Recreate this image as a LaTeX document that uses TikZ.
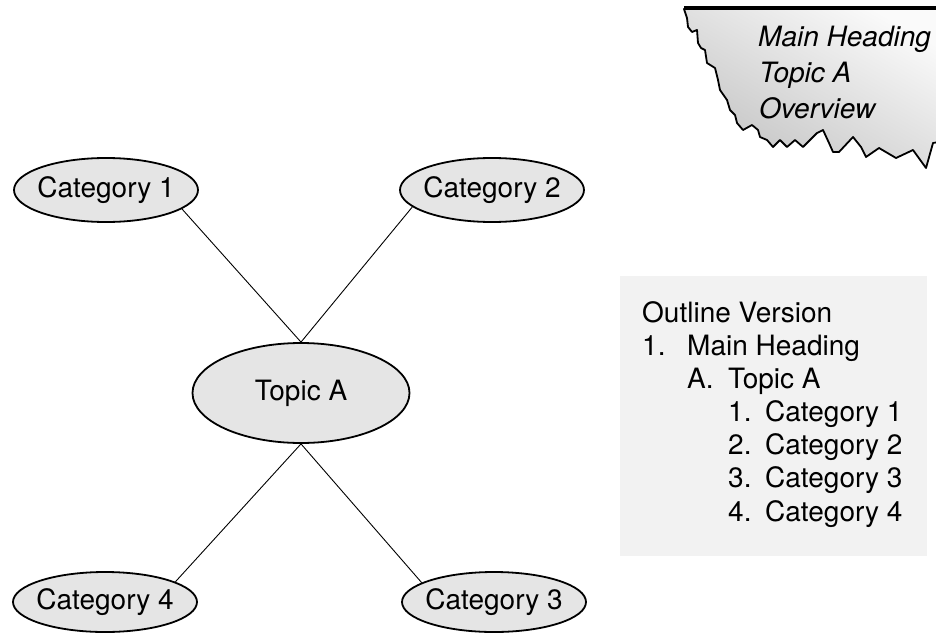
\documentclass[tikz,border=0pt]{standalone}
\usepackage{fontspec}
\setmainfont{TeX Gyre Heros}
\usetikzlibrary{shapes.geometric}
\definecolor{bubblegray}{gray}{0.9}
\definecolor{panelgray}{gray}{0.95}
\definecolor{tornlight}{gray}{0.98}
\definecolor{torndark}{gray}{0.77}

\begin{document}
\begin{tikzpicture}[x=1pt,y=-1pt,
  every node/.style={font=\fontsize{28}{33}\selectfont},
  bubble/.style={ellipse,draw,line width=1.8pt,fill=bubblegray,inner ysep=0pt,
    inner xsep=-5pt,minimum width=184pt,minimum height=64pt},
  spoke/.style={line width=0.9pt},
  item/.style={anchor=base west,inner sep=0pt}]

\useasboundingbox (0,0) rectangle (936,634);

% the map
\node[bubble] (cat1) at (106,190) {Category 1};
\node[bubble] (cat2) at (492,190) {Category 2};
\node[bubble,minimum width=217pt,minimum height=100pt] (topic) at (301,393) {Topic A};
\node[bubble,minimum height=60pt] (cat4) at (105,602) {Category 4};
\node[bubble,minimum height=60pt] (cat3) at (494,602) {Category 3};

\draw[spoke] (topic.north) -- (cat1.-14);
\draw[spoke] (topic.north) -- (cat2.192);
\draw[spoke] (topic.south) -- (cat4.16);
\draw[spoke] (topic.south) -- (cat3.165);

% torn sheet
\shadedraw[line width=1.8pt,line join=round,bottom color=torndark,
  top color=tornlight,shading angle=-30]
  (684,9) -- (687,18) -- (688,27) -- (692,32) -- (697,30) -- (698,43)
  -- (701,48) -- (705,50) -- (707,63) -- (715,68) -- (718,80) -- (720,90)
  -- (727,100) -- (730,110) -- (735,115) -- (737,123) -- (743,130)
  -- (752,125) -- (758,130) -- (760,137) -- (767,140) -- (773,147)
  -- (780,140) -- (787,147) -- (795,140) -- (803,147) -- (810,140)
  -- (817,133) -- (823,130) -- (829,143) -- (833,152) -- (839,152)
  -- (853,137) -- (861,147) -- (866,157) -- (879,148) -- (896,158)
  -- (913,150) -- (926,168) -- (933,143) -- (945,141) -- (945,8) -- cycle;
\draw[line width=3.2pt] (684,8) -- (945,8);

\node[item] (head1) at (758,47) {\itshape Main Heading};
\node[item] (head2) at (759,82) {\itshape Topic A};
\node[item] (head3) at (759,118) {\itshape Overview};

% outline panel
\node[fill=panelgray,minimum width=307pt,minimum height=280pt,inner sep=0pt]
  (outline) at (773.5,416) {};

\node[item] (ol0) at (642,322) {Outline Version};
\node[item] (ol1n) at (642,355) {1.};
\node[item] (ol1) at (687,355) {Main Heading};
\node[item] (olAn) at (687,388) {A.};
\node[item] (olA) at (728,388) {Topic A};
\foreach \i in {1,...,4}{
  \node[item] (olc\i n) at (728,388+33.3*\i) {\i.};
  \node[item] (olc\i) at (765,388+33.3*\i) {Category \i};
}

\end{tikzpicture}
\end{document}
